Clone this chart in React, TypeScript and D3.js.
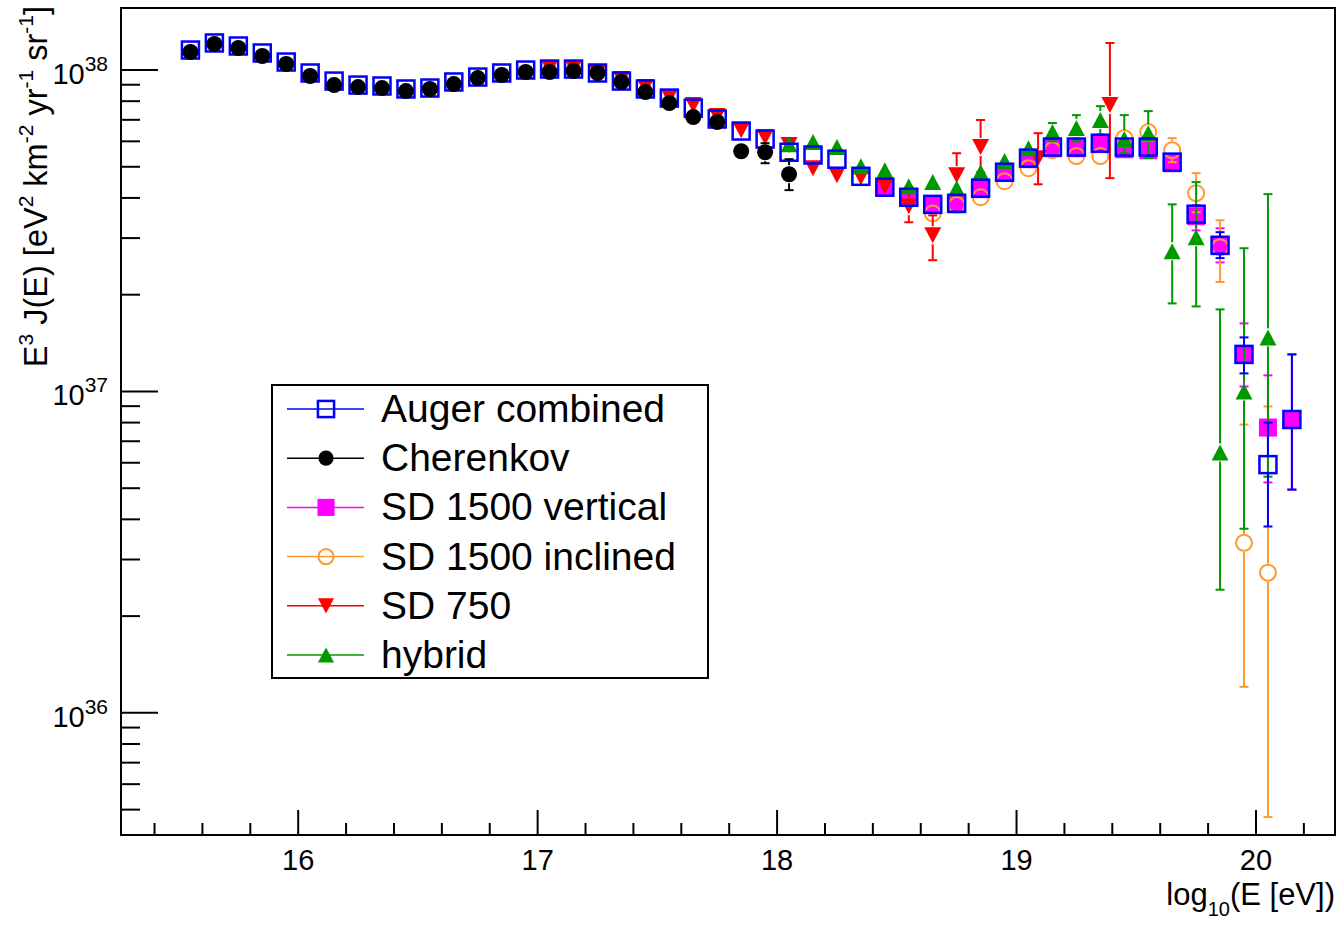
import React from 'react';
import * as d3 from 'd3';

// [log10(E/eV), E^3 J(E) in units of 1e37 eV^2 km^-2 yr^-1 sr^-1, lower, upper]
type Pt = [number, number, number?, number?];
const UNIT = 1e37;

const augerCombined: Pt[] = [
  [15.55, 11.54], [15.65, 12.14], [15.75, 11.88], [15.85, 11.30], [15.95, 10.59],
  [16.05, 9.79], [16.15, 9.24], [16.25, 8.98], [16.35, 8.92], [16.45, 8.73],
  [16.55, 8.79], [16.65, 9.18], [16.75, 9.51], [16.85, 9.79], [16.95, 10.0],
  [17.05, 10.07], [17.15, 10.07], [17.25, 9.79], [17.35, 9.24], [17.45, 8.73],
  [17.55, 8.18], [17.65, 7.61], [17.75, 7.04], [17.85, 6.46], [17.95, 6.10],
  [18.05, 5.55], [18.15, 5.44], [18.25, 5.28], [18.35, 4.67], [18.45, 4.32],
  [18.55, 4.02], [18.65, 3.82], [18.75, 3.85], [18.85, 4.29], [18.95, 4.81],
  [19.05, 5.32], [19.15, 5.76], [19.25, 5.76], [19.35, 5.92], [19.45, 5.76],
  [19.55, 5.76], [19.65, 5.17], [19.75, 3.56], [19.85, 2.85, 2.60, 3.13],
  [19.95, 1.304, 1.138, 1.473], [20.05, 0.592, 0.380, 0.80], [20.15, 0.818, 0.495, 1.304],
];

const cherenkov: Pt[] = [
  [15.55, 11.38], [15.65, 12.05], [15.75, 11.71], [15.85, 11.06], [15.95, 10.44],
  [16.05, 9.58], [16.15, 8.98], [16.25, 8.85], [16.35, 8.79], [16.45, 8.60],
  [16.55, 8.73], [16.65, 9.04], [16.75, 9.44], [16.85, 9.65], [16.95, 9.86],
  [17.05, 9.86], [17.15, 9.93], [17.25, 9.79], [17.35, 9.18], [17.45, 8.54],
  [17.55, 7.89], [17.65, 7.14], [17.75, 6.89], [17.85, 5.59, 5.32, 5.84],
  [17.95, 5.55, 5.13, 5.92], [18.05, 4.74, 4.23, 5.28],
];

const sd1500Vertical: Pt[] = [
  [18.45, 4.32], [18.55, 4.02], [18.65, 3.80], [18.75, 3.82], [18.85, 4.26],
  [18.95, 4.78], [19.05, 5.28], [19.15, 5.71], [19.25, 5.71], [19.35, 5.88],
  [19.45, 5.67], [19.55, 5.63], [19.65, 5.13], [19.75, 3.51, 3.17, 3.80],
  [19.85, 2.83, 2.52, 3.22], [19.95, 1.304, 1.036, 1.628], [20.05, 0.772, 0.521, 1.122],
  [20.15, 0.818, 0.495, 1.304],
];

const sd1500Inclined: Pt[] = [
  [18.65, 3.58], [18.75, 3.80], [18.85, 4.02], [18.95, 4.51], [19.05, 4.95],
  [19.15, 5.63], [19.25, 5.40], [19.35, 5.40], [19.45, 6.14], [19.55, 6.41],
  [19.65, 5.63, 5.17, 6.14], [19.75, 4.14, 3.61, 4.78], [19.85, 2.81, 2.19, 3.41],
  [19.95, 0.338, 0.1205, 0.789], [20.05, 0.273, 0.0474, 0.898],
];

const sd750: Pt[] = [
  [17.05, 10.14], [17.15, 10.14], [17.25, 9.79], [17.35, 9.37], [17.45, 8.85],
  [17.55, 8.24], [17.65, 7.78], [17.75, 7.19], [17.85, 6.50], [17.95, 6.18],
  [18.05, 5.84], [18.15, 4.95], [18.25, 4.71], [18.35, 4.64, 4.50, 4.78], [18.45, 4.35],
  [18.55, 3.77, 3.36, 4.23], [18.65, 3.06, 2.56, 3.53], [18.75, 4.71, 4.08, 5.51],
  [18.85, 5.76, 4.81, 6.99], [19.09, 5.32, 4.41, 6.36], [19.39, 7.78, 4.61, 12.14],
];

const hybrid: Pt[] = [
  [18.05, 5.88], [18.15, 5.97], [18.25, 5.76], [18.35, 5.02], [18.45, 4.88],
  [18.55, 4.35], [18.65, 4.48], [18.75, 4.29], [18.85, 4.81], [18.95, 5.21],
  [19.05, 5.71], [19.15, 6.41, 6.0, 6.84], [19.25, 6.60, 6.0, 7.24], [19.35, 6.99, 6.3, 7.72],
  [19.45, 6.10, 5.51, 7.24], [19.55, 6.36, 5.32, 7.45], [19.65, 2.73, 1.879, 3.82],
  [19.75, 3.02, 1.839, 4.48], [19.85, 0.646, 0.2416, 1.80], [19.95, 1.00, 0.374, 2.79],
  [20.05, 1.473, 0.543, 4.11],
];

const xTickLabels = [16, 17, 18, 19, 20];
const yTickExponents = [36, 37, 38];

type Marker = 'openSquare' | 'filledCircle' | 'filledSquare' | 'openCircle' | 'downTri' | 'upTri';
interface Series { name: string; data: Pt[]; color: string; marker: Marker; }

const seriesList: Series[] = [
  { name: 'Auger combined', data: augerCombined, color: '#0000ff', marker: 'openSquare' },
  { name: 'Cherenkov', data: cherenkov, color: '#000000', marker: 'filledCircle' },
  { name: 'SD 1500 vertical', data: sd1500Vertical, color: '#ff00ff', marker: 'filledSquare' },
  { name: 'SD 1500 inclined', data: sd1500Inclined, color: '#ff9933', marker: 'openCircle' },
  { name: 'SD 750', data: sd750, color: '#ff0000', marker: 'downTri' },
  { name: 'hybrid', data: hybrid, color: '#009900', marker: 'upTri' },
];
// drawing order (back to front)
const drawOrder = ['SD 1500 vertical', 'SD 1500 inclined', 'SD 750', 'hybrid', 'Auger combined', 'Cherenkov'];

const FONT = '"Liberation Sans", Arial, Helvetica, sans-serif';

const PL = 121, PR = 1335, PT = 8, PB = 835;

function MarkerShape({ type, color, cx, cy, s = 1 }: { type: Marker; color: string; cx: number; cy: number; s?: number }) {
  switch (type) {
    case 'openSquare':
      return <rect x={cx - 8.5 * s} y={cy - 8.5 * s} width={17 * s} height={17 * s} fill="none" stroke={color} strokeWidth={2.5} />;
    case 'filledSquare':
      return <rect x={cx - 9 * s} y={cy - 9 * s} width={18 * s} height={18 * s} fill={color} />;
    case 'filledCircle':
      return <circle cx={cx} cy={cy} r={8 * s} fill={color} />;
    case 'openCircle':
      return <circle cx={cx} cy={cy} r={8 * s} fill="none" stroke={color} strokeWidth={2} />;
    case 'downTri':
      return <path d={`M${cx - 8.5 * s},${cy - 8 * s}L${cx + 8.5 * s},${cy - 8 * s}L${cx},${cy + 8 * s}Z`} fill={color} />;
    case 'upTri':
      return <path d={`M${cx - 8.5 * s},${cy + 8 * s}L${cx + 8.5 * s},${cy + 8 * s}L${cx},${cy - 8 * s}Z`} fill={color} />;
  }
}

export default function App() {
  const x = d3.scaleLinear().domain([15.26, 20.33]).range([PL, PR]);
  const y = d3.scaleLog().domain([Math.pow(10, 35.62), Math.pow(10, 38.193)]).range([PB, PT]);

  const xMinor = d3.range(15.4, 20.31, 0.2).map((v) => Math.round(v * 10) / 10);
  const yMinor: number[] = [];
  for (let e = 35; e <= 38; e++) {
    for (let k = 2; k <= 9; k++) {
      const v = k * Math.pow(10, e);
      const [d0, d1] = y.domain();
      if (v > d0 && v < d1) yMinor.push(v);
    }
  }

  const ordered = drawOrder.map((n) => seriesList.find((s) => s.name === n)!);

  const gap = 9;
  const cap = 4.5;

  const legendRows = seriesList.map((s, i) => ({ ...s, cy: 409 + i * 49.2 }));

  return (
    <>
      <style>{`body{margin:0;background:#fff}`}</style>
      <svg width={1339} height={928} style={{ position: 'absolute', left: 0, top: 0, fontFamily: FONT }}>
        <rect x={0} y={0} width={1339} height={928} fill="#fff" />

        {/* error bars and markers */}
        {ordered.map((s) => (
          <g key={s.name}>
            {s.data.map((p, i) => {
              const cx = x(p[0]);
              const cy = y(p[1] * UNIT);
              const parts: JSX.Element[] = [];
              if (p[2] !== undefined && p[3] !== undefined) {
                const yl = y((p[2] as number) * UNIT);
                const yh = y((p[3] as number) * UNIT);
                if (yh < cy - gap) {
                  parts.push(<line key="u" x1={cx} x2={cx} y1={yh} y2={cy - gap} stroke={s.color} strokeWidth={2} />);
                  parts.push(<line key="uc" x1={cx - cap} x2={cx + cap} y1={yh} y2={yh} stroke={s.color} strokeWidth={2} />);
                }
                if (yl > cy + gap) {
                  parts.push(<line key="l" x1={cx} x2={cx} y1={cy + gap} y2={yl} stroke={s.color} strokeWidth={2} />);
                  parts.push(<line key="lc" x1={cx - cap} x2={cx + cap} y1={yl} y2={yl} stroke={s.color} strokeWidth={2} />);
                }
              }
              return (
                <g key={i}>
                  {parts}
                  <MarkerShape type={s.marker} color={s.color} cx={cx} cy={cy} />
                </g>
              );
            })}
          </g>
        ))}

        {/* frame */}
        <rect x={PL} y={PT} width={PR - PL} height={PB - PT} fill="none" stroke="#000" strokeWidth={2} />

        {/* x ticks */}
        {xMinor.map((v) => {
          const major = Math.abs(v - Math.round(v)) < 1e-6;
          return <line key={v} x1={x(v)} x2={x(v)} y1={PB} y2={PB - (major ? 25 : 12)} stroke="#000" strokeWidth={2} />;
        })}
        {xTickLabels.map((v) => (
          <text key={v} x={x(v)} y={870} textAnchor="middle" fontSize={29}>{v}</text>
        ))}
        <text x={PR} y={905} textAnchor="end" fontSize={31}>
          log<tspan fontSize={20} dy={11}>10</tspan><tspan dy={-11}>(E [eV])</tspan>
        </text>

        {/* y ticks */}
        {yTickExponents.map((e) => {
          const v = Math.pow(10, e);
          return <line key={'M' + e} x1={PL} x2={PL + 37} y1={y(v)} y2={y(v)} stroke="#000" strokeWidth={2} />;
        })}
        {yMinor.map((v) => (
          <line key={'m' + v} x1={PL} x2={PL + 19} y1={y(v)} y2={y(v)} stroke="#000" strokeWidth={2} />
        ))}
        {yTickExponents.map((e) => (
          <text key={'L' + e} x={108} y={y(Math.pow(10, e)) + 14} textAnchor="end" fontSize={29}>
            10<tspan fontSize={21} dy={-13}>{e}</tspan>
          </text>
        ))}
        <text transform={`translate(47,6) rotate(-90)`} textAnchor="end" fontSize={32.5}>
          E<tspan fontSize={21} dy={-14}>3</tspan>
          <tspan dy={14}> J(E) [eV</tspan><tspan fontSize={21} dy={-14}>2</tspan>
          <tspan dy={14}> km</tspan><tspan fontSize={21} dy={-14}>-2</tspan>
          <tspan dy={14}> yr</tspan><tspan fontSize={21} dy={-14}>-1</tspan>
          <tspan dy={14}> sr</tspan><tspan fontSize={21} dy={-14}>-1</tspan>
          <tspan dy={14}>]</tspan>
        </text>

        {/* legend */}
        <rect x={272} y={385} width={436} height={293} fill="#fff" stroke="#000" strokeWidth={2} />
        {legendRows.map((s) => (
          <g key={s.name}>
            <line x1={287} x2={364} y1={s.cy} y2={s.cy} stroke={s.color} strokeWidth={1.5} />
            <MarkerShape type={s.marker} color={s.color} cx={326} cy={s.cy} s={0.95} />
            <text x={381} y={s.cy + 13} fontSize={39}>{s.name}</text>
          </g>
        ))}
      </svg>
    </>
  );
}
